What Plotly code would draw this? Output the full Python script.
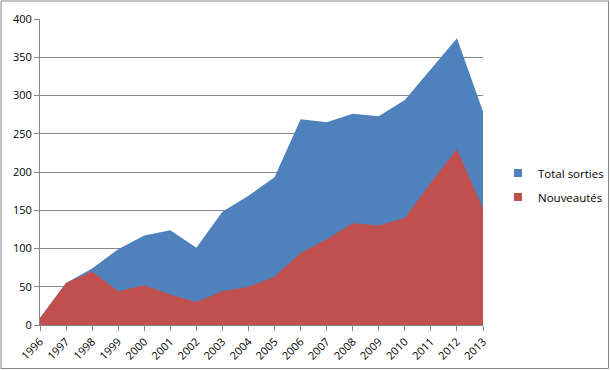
import plotly.graph_objects as go

years = list(range(1996, 2014))
total_sorties = [9, 55, 74, 99, 117, 124, 101, 148, 169, 193, 269, 265, 276, 273, 294, 334, 375, 279]
nouveautes = [9, 55, 70, 44, 52, 40, 30, 44, 50, 63, 94, 112, 133, 130, 140, 186, 230, 152]
y_ticks = [0, 50, 100, 150, 200, 250, 300, 350, 400]
series_names = ["Total sorties", "Nouveautés"]
colors = ["#4F81BD", "#C0504D"]

W, H = 610, 370
L, R, T, B = 40, 127, 19, 45
pw, ph = W - L - R, H - T - B

fig = go.Figure()
for name, vals, col in zip(series_names, [total_sorties, nouveautes], colors):
    fig.add_trace(go.Scatter(x=years, y=vals, name=name, mode="lines",
                             line=dict(width=0, color=col), fill="tozeroy",
                             fillcolor=col, showlegend=False, hoverinfo="skip"))
for name, col in zip(series_names, colors):
    fig.add_trace(go.Scatter(x=[None], y=[None], name=name, mode="markers",
                             legendgroup=name,
                             marker=dict(symbol="square", size=8, color=col)))

fig.update_layout(
    width=W, height=H,
    margin=dict(l=L, r=R, t=T, b=B, autoexpand=False),
    paper_bgcolor="white", plot_bgcolor="white",
    font=dict(family="Open Sans, Liberation Sans, sans-serif", size=11, color="black"),
    showlegend=True,
    legend=dict(x=(498 - L) / pw, y=(325 - 185) / ph, xanchor="left", yanchor="middle",
                traceorder="grouped", font=dict(size=11.5), itemwidth=30,
                tracegroupgap=5, bgcolor="rgba(0,0,0,0)"),
    xaxis=dict(range=[1996, 2013], tickmode="array", tickvals=years,
               ticktext=[str(y) for y in years], tickangle=-45, automargin=False,
               showgrid=False, showline=True, linecolor="#868686", linewidth=1,
               ticks="outside", ticklen=5, tickcolor="#868686", zeroline=False),
    yaxis=dict(range=[0, 400], tickmode="array", tickvals=y_ticks, automargin=False,
               showgrid=True, gridcolor="#868686", gridwidth=1,
               showline=True, linecolor="#868686", linewidth=1,
               ticks="outside", ticklen=5, tickcolor="#868686", zeroline=False),
    shapes=[dict(type="rect", xref="paper", yref="paper",
                 x0=(1 - L) / pw, x1=(608.5 - L) / pw,
                 y0=(T + ph - 368.5) / ph, y1=(T + ph - 1) / ph,
                 line=dict(color="#868686", width=1), layer="below")],
)

fig.write_html("out.html", config={"displayModeBar": False},
               post_script="document.body.style.margin='0';document.body.style.overflow='hidden';")
